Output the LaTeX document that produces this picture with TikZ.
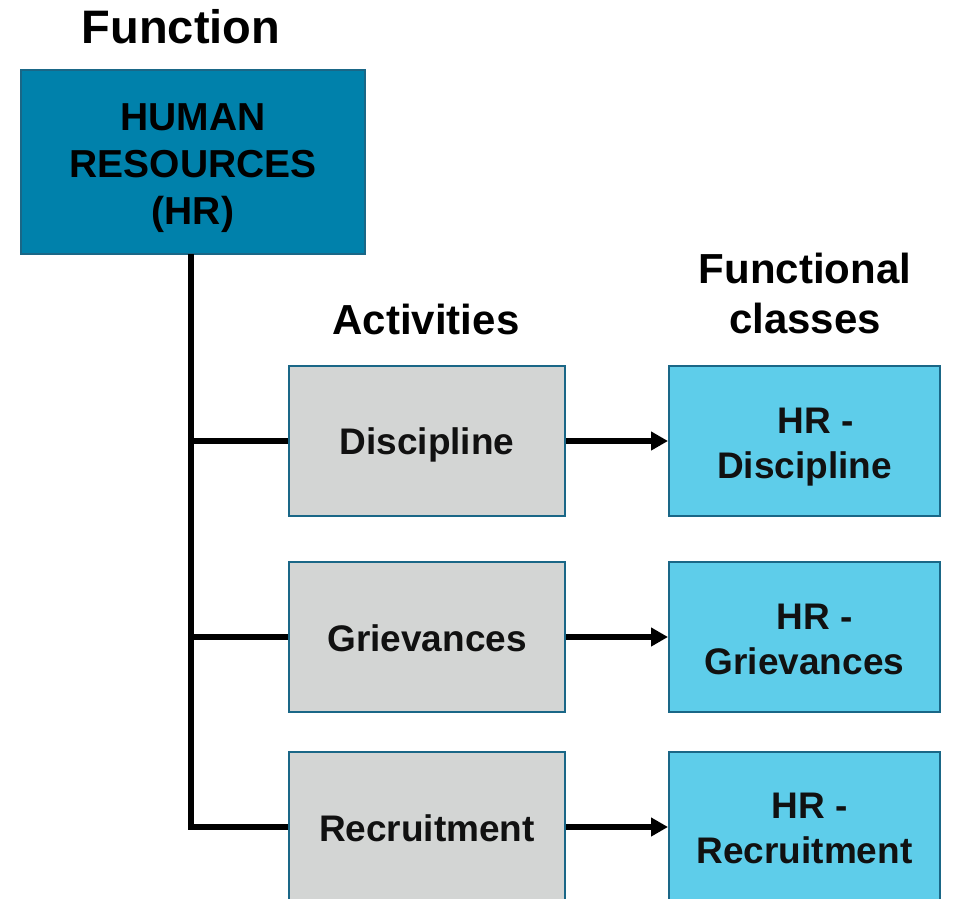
\documentclass[tikz,border=0pt]{standalone}
\usepackage{fontspec}
\setmainfont{Liberation Sans}
\usetikzlibrary{arrows.meta}
\definecolor{hrblue}{HTML}{0081AB}
\definecolor{edgeblue}{HTML}{1A6787}
\definecolor{actgray}{HTML}{D3D5D4}
\definecolor{clscyan}{HTML}{5ECDEA}
\definecolor{txtblack}{HTML}{111111}
\tikzset{
  heading/.style={font=\fontsize{42}{50}\selectfont\bfseries, align=center, inner sep=0pt},
  hrbox/.style={draw=edgeblue, line width=2pt, fill=hrblue, minimum width=344pt, minimum height=184pt, inner sep=0pt},
  hrtxt/.style={align=center, inner sep=0pt, font=\fontsize{39}{47}\selectfont\bfseries},
  actbox/.style={draw=edgeblue, line width=2pt, fill=actgray, minimum width=276pt, minimum height=150pt, inner sep=0pt},
  clsbox/.style={draw=edgeblue, line width=2pt, fill=clscyan, minimum width=271pt, minimum height=150pt, inner sep=0pt},
  boxtxt/.style={align=center, inner sep=0pt, text=txtblack, font=\fontsize{37}{45}\selectfont\bfseries},
  conn/.style={line width=5.5pt, black},
  arr/.style={line width=5.5pt, black, -{Triangle[length=17pt,width=18pt]}, shorten >=0pt}
}
\begin{document}
\begin{tikzpicture}[x=1pt,y=-1pt]
\useasboundingbox (0,0) rectangle (953,899);
\node[heading, font=\fontsize{47}{50}\selectfont\bfseries, anchor=base] (fn) at (181,44) {Function};
\node[hrbox, label={[hrtxt, yshift=-6pt]center:{HUMAN\\RESOURCES\\(HR)}}] (hr) at (193,162) {};
\node[heading, anchor=base] (act) at (426,334) {Activities};
\node[heading] (fc) at (805,293) {Functional\\classes};

\node[actbox, label={[boxtxt, yshift=-4pt]center:Discipline}] (dis) at (427,441) {};
\node[actbox, label={[boxtxt, yshift=-1pt]center:Grievances}] (gri) at (427,637) {};
\node[actbox, label={[boxtxt, yshift=-1pt]center:Recruitment}] (rec) at (427,827) {};

\node[clsbox, label={[boxtxt, yshift=-6pt]center:{\hspace*{22pt}HR -\\Discipline}}] (cdis) at (804.5,441) {};
\node[clsbox, label={[boxtxt, yshift=-2pt]center:{\hspace*{21pt}HR -\\Grievances}}] (cgri) at (804.5,637) {};
\node[clsbox, label={[boxtxt, yshift=-1pt]center:{\hspace*{10pt}HR -\\Recruitment}}] (crec) at (804.5,827) {};

\coordinate (top) at ([xshift=-2pt, yshift=1pt]hr.south);
\draw[conn, line join=miter] (top) |- (rec.west);
\draw[conn] (top |- dis.west) -- (dis.west);
\draw[conn] (top |- gri.west) -- (gri.west);

\draw[arr] (dis.east) -- (cdis.west);
\draw[arr] (gri.east) -- (cgri.west);
\draw[arr] (rec.east) -- (crec.west);
\end{tikzpicture}
\end{document}
